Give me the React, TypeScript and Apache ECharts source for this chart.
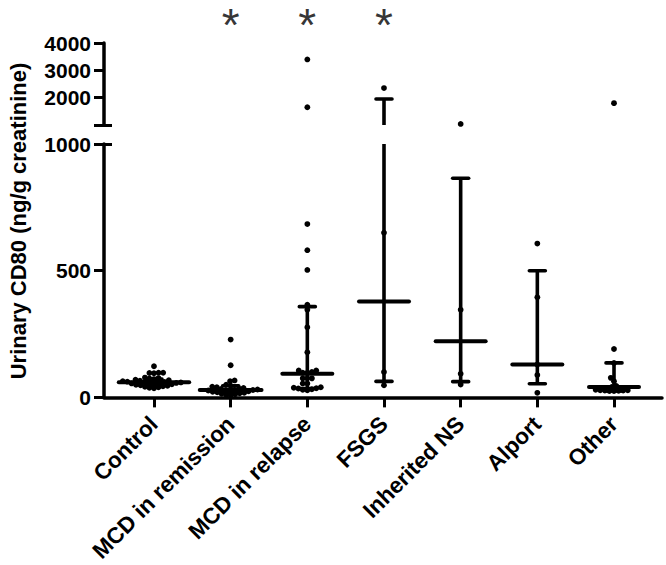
import React, { useEffect, useRef } from "react";
import * as echarts from "echarts";

const categories = ["Control", "MCD in remission", "MCD in relapse", "FSGS", "Inherited NS", "Alport", "Other"];

const controlValues = [123, 97, 97, 96, 95, 78, 76, 74, 72, 70, 68, 66, 64, 62, 61, 60, 59, 58, 57, 56, 55, 54, 52, 50, 48, 46, 44, 42, 40, 38, 36];
const mcdRemissionValues = [228, 127, 67, 64, 50, 46, 42, 40, 37, 35, 33, 31, 30, 29, 28, 27, 26, 24, 22, 20, 18, 16, 14, 12, 10, 8];
const mcdRelapseValues = [3400, 1650, 684, 581, 503, 366, 346, 277, 178, 106, 106, 100, 97, 97, 75, 75, 75, 55, 55, 40, 38, 36, 35, 32, 30, 28];
const fsgsValues = [2350, 650, 100, 48];
const inheritedValues = [1040, 346, 93, 51];
const alportValues = [607, 395, 130, 88, 18];
const otherValues = [1800, 191, 136, 77, 64, 45, 41, 30, 28, 28, 27, 27, 26, 25, 25];

const groupValues = [controlValues, mcdRemissionValues, mcdRelapseValues, fsgsValues, inheritedValues, alportValues, otherValues];

const medians = [60, 29, 93, 378, 222, 130, 41];
const q1s = [48, 16, 35, 63, 62, 54, 25];
const q3s = [72, 46, 358, 1950, 865, 500, 136];

const significant = ["MCD in remission", "MCD in relapse", "FSGS"];

const lowerTicks = [0, 500, 1000];
const upperTicks = [1000, 2000, 3000, 4000];
const upperLabels = [2000, 3000, 4000];
const BREAK = 1000;
const TOP = 4000;
const catIdx = categories.map((_, i) => i);

const X_MIN = -0.652;
const X_MAX = 6.626;
const DOT_R = 2.9;
const DOT_GAP = 4.6;
const FONT = "'Liberation Sans', Arial, Helvetica, sans-serif";

function swarm(ys: number[], D: number): number[] {
  const order = ys.map((_, i) => i).sort((a, b) => ys[b] - ys[a]);
  const placed: { x: number; y: number }[] = [];
  const out = new Array(ys.length).fill(0);
  for (const i of order) {
    const y = ys[i];
    const cands = [0];
    for (const p of placed) {
      const dy = Math.abs(p.y - y);
      if (dy < D) {
        const dx = Math.sqrt(D * D - dy * dy);
        cands.push(p.x + dx, p.x - dx);
      }
    }
    cands.sort((a, b) => Math.abs(a) - Math.abs(b) || a - b);
    let chosen = 0;
    for (const c of cands) {
      if (placed.every((p) => (p.x - c) ** 2 + (p.y - y) ** 2 >= D * D - 1e-6)) {
        chosen = c;
        break;
      }
    }
    placed.push({ x: chosen, y });
    out[i] = chosen;
  }
  return out;
}

function makeRender(segment: "upper" | "lower") {
  const lo = segment === "lower" ? 0 : BREAK;
  const hi = segment === "lower" ? BREAK : TOP;
  return (params: any, api: any) => {
    const g = api.value(0);
    const vals = groupValues[g].filter((v) => (segment === "lower" ? v <= BREAK : v > BREAK));
    const pts = vals.map((v) => api.coord([g, v]));
    const offs = swarm(pts.map((p: number[]) => p[1]), DOT_GAP);
    const cx = api.coord([g, lo])[0];
    const maxOff = offs.reduce((m, o) => Math.max(m, Math.abs(o)), 0);
    const children: any[] = [];
    const lineStyle = { stroke: "#000", lineWidth: 3.6, lineCap: "round" };
    const q1 = q1s[g];
    const q3 = q3s[g];
    const med = medians[g];
    const a = Math.max(q1, lo);
    const b = Math.min(q3, hi);
    if (a < b) {
      children.push({
        type: "line",
        shape: { x1: cx, y1: api.coord([g, a])[1], x2: cx, y2: api.coord([g, b])[1] },
        style: { ...lineStyle, lineCap: "butt" },
      });
    }
    [q1, q3].forEach((q) => {
      if (q >= lo && q <= hi) {
        const y = api.coord([g, q])[1];
        children.push({ type: "line", shape: { x1: cx - 8, y1: y, x2: cx + 8, y2: y }, style: lineStyle });
      }
    });
    if (med >= lo && med <= hi) {
      const y = api.coord([g, med])[1];
      const half = Math.max(25, maxOff + 4);
      children.push({ type: "line", shape: { x1: cx - half, y1: y, x2: cx + half, y2: y }, style: { ...lineStyle, lineWidth: 4 } });
    }
    pts.forEach((p: number[], i: number) => {
      children.push({ type: "circle", shape: { cx: cx + offs[i], cy: p[1], r: DOT_R }, style: { fill: "#000" } });
    });
    return { type: "group", children };
  };
}

const axisFont = { color: "#000", fontFamily: FONT, fontWeight: "bold" as const };
const plain = (v: number) => String(v);

export default function App() {
  const ref = useRef<HTMLDivElement>(null);
  useEffect(() => {
    if (!ref.current) return;
    const chart = echarts.init(ref.current, null, { renderer: "svg" });
    const yBase = (gridIndex: number, min: number, max: number) => ({
      gridIndex,
      type: "value",
      position: "left",
      offset: 0,
      min,
      max,
      splitLine: { show: false },
    });
    const option: any = {
      animation: false,
      backgroundColor: "#fff",
      grid: [
        { left: 104, top: 43, width: 558, height: 82 },
        { left: 104, top: 144, width: 558, height: 254 },
      ],
      xAxis: [
        { gridIndex: 0, type: "value", min: X_MIN, max: X_MAX, show: false },
        {
          gridIndex: 1,
          type: "value",
          min: X_MIN,
          max: X_MAX,
          splitLine: { show: false },
          axisLine: { show: true, onZero: false, lineStyle: { color: "#000", width: 3.5 } },
          axisTick: { show: true, length: 10, customValues: catIdx, lineStyle: { color: "#000", width: 3 } },
          axisLabel: {
            customValues: catIdx,
            formatter: (v: number) => categories[Math.round(v)] ?? "",
            rotate: 45,
            margin: 23,
            fontSize: 22.5,
            ...axisFont,
          },
        },
      ],
      yAxis: [
        {
          ...yBase(0, BREAK, TOP),
          axisLine: { show: true, onZero: false, lineStyle: { color: "#000", width: 3.5 } },
          axisTick: { show: true, length: 10, customValues: upperTicks, lineStyle: { color: "#000", width: 3 } },
          axisLabel: { customValues: upperLabels, formatter: plain, margin: 13, fontSize: 21, ...axisFont },
        },
        {
          ...yBase(1, 0, BREAK),
          axisLine: { show: true, onZero: false, lineStyle: { color: "#000", width: 3.5 } },
          axisTick: { show: true, length: 10, customValues: lowerTicks, lineStyle: { color: "#000", width: 3 } },
          axisLabel: { customValues: lowerTicks, formatter: plain, margin: 13, fontSize: 21, ...axisFont },
        },
        {
          ...yBase(0, BREAK, TOP),
          axisLine: { show: false, onZero: false },
          axisLabel: { show: false },
          axisTick: { show: true, inside: true, length: 8, customValues: [BREAK], lineStyle: { color: "#000", width: 3 } },
        },
        {
          ...yBase(1, 0, BREAK),
          axisLine: { show: false, onZero: false },
          axisLabel: { show: false },
          axisTick: { show: true, inside: true, length: 8, customValues: [BREAK], lineStyle: { color: "#000", width: 3 } },
        },
      ],
      graphic: [
        {
          type: "text",
          x: 18,
          y: 221,
          rotation: Math.PI / 2,
          style: {
            text: "Urinary CD80 (ng/g creatinine)",
            align: "center",
            verticalAlign: "middle",
            fill: "#000",
            font: `bold 22px ${FONT}`,
          },
        },
      ],
      series: [
        {
          type: "custom",
          xAxisIndex: 0,
          yAxisIndex: 0,
          renderItem: makeRender("upper"),
          data: catIdx.map((i) => [i, TOP]),
          encode: { x: 0, y: 1 },
          silent: true,
        },
        {
          type: "custom",
          xAxisIndex: 1,
          yAxisIndex: 1,
          renderItem: makeRender("lower"),
          data: catIdx.map((i) => [i, 0]),
          encode: { x: 0, y: 1 },
          silent: true,
        },
        {
          type: "scatter",
          xAxisIndex: 0,
          yAxisIndex: 0,
          symbolSize: 0,
          silent: true,
          data: significant.map((n) => [categories.indexOf(n), TOP]),
          label: {
            show: true,
            position: "inside",
            offset: [0, -18],
            formatter: () => "*",
            fontSize: 46,
            lineHeight: 36,
            fontFamily: FONT,
            fontWeight: "normal",
            color: "#000",
          },
        },
      ],
    };
    chart.setOption(option);
    return () => chart.dispose();
  }, []);
  return <div ref={ref} style={{ position: "fixed", left: 0, top: 0, width: 666, height: 565, background: "#fff" }} />;
}
